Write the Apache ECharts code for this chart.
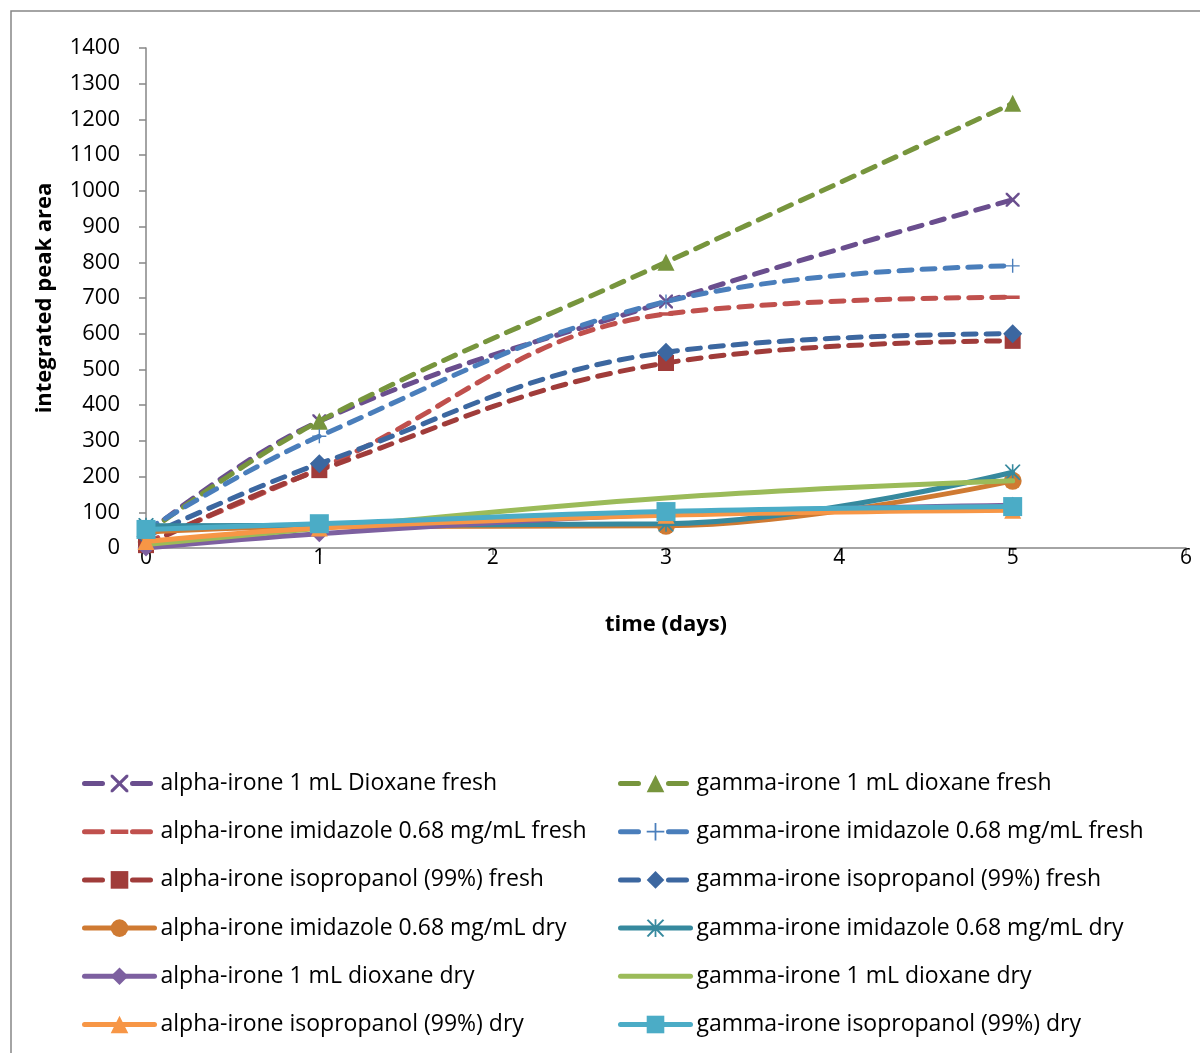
<!DOCTYPE html>
<html>
<head>
<meta charset="utf-8">
<title>Integrated peak area over time</title>
<script src="https://cdn.jsdelivr.net/npm/echarts@6/dist/echarts.min.js"></script>
<style>
  html, body { margin: 0; padding: 0; background: #ffffff; }
  #chart { width: 1200px; height: 1053px; }
</style>
</head>
<body>
<div id="chart"></div>
<script>
// Sampling days
const days = [0, 1, 3, 5];

// Integrated peak area per sample (one value per day above)
const alphaDioxaneFresh      = [40, 355, 690, 975];
const gammaDioxaneFresh      = [40, 355, 800, 1245];
const alphaImidazoleFresh    = [15, 222, 655, 702];
const gammaImidazoleFresh    = [50, 313, 690, 790];
const alphaIsopropanolFresh  = [8, 218, 518, 580];
const gammaIsopropanolFresh  = [32, 236, 548, 600];
const alphaImidazoleDry      = [45, 60, 62, 188];
const gammaImidazoleDry      = [62, 64, 68, 212];
const alphaDioxaneDry        = [0, 40, 95, 120];
const gammaDioxaneDry        = [10, 55, 140, 188];
const alphaIsopropanolDry    = [18, 56, 92, 106];
const gammaIsopropanolDry    = [52, 68, 102, 116];

// Axis ticks
const yTicks = { min: 0, max: 1400, step: 100 };
const xTicks = { min: 0, max: 6, step: 1 };

// Legend labels
const alphaNames = [
  'alpha-irone 1 mL Dioxane fresh',
  'alpha-irone imidazole 0.68 mg/mL fresh',
  'alpha-irone isopropanol (99%) fresh',
  'alpha-irone imidazole 0.68 mg/mL dry',
  'alpha-irone 1 mL dioxane dry',
  'alpha-irone isopropanol (99%) dry'
];
const gammaNames = [
  'gamma-irone 1 mL dioxane fresh',
  'gamma-irone imidazole 0.68 mg/mL fresh',
  'gamma-irone isopropanol (99%) fresh',
  'gamma-irone imidazole 0.68 mg/mL dry',
  'gamma-irone 1 mL dioxane dry',
  'gamma-irone isopropanol (99%) dry'
];

// Marker shapes
const X_MARK = 'path://M0,0 L2.5,0 L10,7.5 L17.5,0 L20,0 L20,2.5 L12.5,10 L20,17.5 L20,20 L17.5,20 L10,12.5 L2.5,20 L0,20 L0,17.5 L7.5,10 L0,2.5 Z';
const PLUS_MARK = 'path://M9,0 L11,0 L11,9 L20,9 L20,11 L11,11 L11,20 L9,20 L9,11 L0,11 L0,9 L9,9 Z';
const STAR_MARK = 'path://M0,1 L1.8,0 L10,8 L18.2,0 L20,1 L11.5,10 L20,19 L18.2,20 L10,12 L1.8,20 L0,19 L8.5,10 Z M9,0 L11,0 L11,20 L9,20 Z';
// short horizontal bar centred in a square box (tiny corner specks keep the box square)
const DASH_MARK = 'path://M0,0 L0.01,0 L0,0.01 Z M20,20 L19.99,20 L20,19.99 Z M0,7.5 L20,7.5 L20,12.5 L0,12.5 Z';

const FONT = 'Open Sans';
const DASH = [13, 10];
const LEGEND_DASH = [18, 30];
const LINE_W = 5;

function makeSeries(name, values, color, symbol, symbolSize, dashed, z) {
  return {
    name: name,
    type: 'line',
    smooth: 0.4,
    data: days.map((d, i) => [d, values[i]]),
    symbol: symbol,
    symbolSize: symbolSize,
    showSymbol: symbol !== 'none',
    z: z,
    itemStyle: { color: color, borderWidth: 0 },
    lineStyle: { color: color, width: LINE_W, type: dashed ? DASH : 'solid', cap: 'round' },
    emphasis: { disabled: true },
    animation: false
  };
}

const series = [
  makeSeries(alphaNames[0], alphaDioxaneFresh,     '#6A4E8E', X_MARK,    14, true, 2),
  makeSeries(gammaNames[0], gammaDioxaneFresh,     '#77953D', 'triangle', 17, true, 3),
  makeSeries(alphaNames[1], alphaImidazoleFresh,   '#C0504D', DASH_MARK, 14, true, 4),
  makeSeries(gammaNames[1], gammaImidazoleFresh,   '#4A7EBB', PLUS_MARK, 14, true, 5),
  makeSeries(alphaNames[2], alphaIsopropanolFresh, '#A03C3A', 'rect',    16, true, 6),
  makeSeries(gammaNames[2], gammaIsopropanolFresh, '#3C67A0', 'diamond', 19, true, 7),
  makeSeries(alphaNames[3], alphaImidazoleDry,     '#CF7A32', 'circle',  18, false, 8),
  makeSeries(gammaNames[3], gammaImidazoleDry,     '#36899E', STAR_MARK, 16, false, 9),
  makeSeries(alphaNames[4], alphaDioxaneDry,       '#7D60A0', 'diamond', 17, false, 10),
  makeSeries(gammaNames[4], gammaDioxaneDry,       '#9BBB59', 'none',    0,  false, 11),
  makeSeries(alphaNames[5], alphaIsopropanolDry,   '#F79646', 'triangle', 17, false, 12),
  makeSeries(gammaNames[5], gammaIsopropanolDry,   '#4BACC6', 'rect',    19, false, 13)
];

const legendBase = {
  orient: 'vertical',
  top: 772,
  padding: 0,
  itemWidth: 70,
  itemHeight: 22,
  itemGap: 25.2,
  selectedMode: false,
  lineStyle: { width: LINE_W, cap: 'round' },
  textStyle: { fontFamily: FONT, fontSize: 23, lineHeight: 21, color: '#000000', padding: [0, 0, 0, 1] }
};

// Legend entries: the first three rows are dashed, the plain dry line carries no marker
function legendEntries(names) {
  return names.map((n, i) => {
    if (i < 3) return { name: n, lineStyle: { type: LEGEND_DASH, width: LINE_W, cap: 'round' } };
    if (n === gammaNames[4]) return { name: n, itemStyle: { color: 'rgba(0,0,0,0)' } };
    return n;
  });
}

const option = {
  backgroundColor: '#ffffff',
  animation: false,
  textStyle: { fontFamily: FONT },
  grid: { left: 146, right: 14, top: 48, bottom: 505, containLabel: false },
  xAxis: {
    type: 'value',
    min: xTicks.min,
    max: xTicks.max,
    interval: xTicks.step,
    name: 'time (days)',
    nameLocation: 'middle',
    nameGap: 66,
    nameTextStyle: { fontFamily: FONT, fontSize: 22, fontWeight: 'bold', color: '#000000' },
    axisLine: { show: true, lineStyle: { color: '#868686', width: 1.5 } },
    axisTick: { show: true, length: 7, lineStyle: { color: '#868686', width: 1.5 } },
    axisLabel: { fontFamily: FONT, fontSize: 21, color: '#000000', margin: 0 },
    splitLine: { show: false }
  },
  yAxis: {
    type: 'value',
    min: yTicks.min,
    max: yTicks.max,
    interval: yTicks.step,
    name: 'integrated peak area',
    nameLocation: 'middle',
    nameRotate: 90,
    nameGap: 90,
    nameTextStyle: { fontFamily: FONT, fontSize: 22, fontWeight: 'bold', color: '#000000' },
    axisLine: { show: true, lineStyle: { color: '#868686', width: 1.5 } },
    axisTick: { show: true, length: 7, lineStyle: { color: '#868686', width: 1.5 } },
    axisLabel: { fontFamily: FONT, fontSize: 22, color: '#000000', margin: 26, formatter: (v) => String(v) },
    splitLine: { show: false }
  },
  legend: [
    Object.assign({}, legendBase, { left: 82, data: legendEntries(alphaNames) }),
    Object.assign({}, legendBase, { left: 618, data: legendEntries(gammaNames) })
  ],
  graphic: [{
    type: 'rect',
    silent: true,
    shape: { x: 11, y: 11, width: 1300, height: 1200 },
    style: { fill: 'none', stroke: '#868686', lineWidth: 1.5 }
  }],
  series: series
};

const chart = echarts.init(document.getElementById('chart'), null, { renderer: 'canvas' });
chart.setOption(option);
</script>
</body>
</html>
